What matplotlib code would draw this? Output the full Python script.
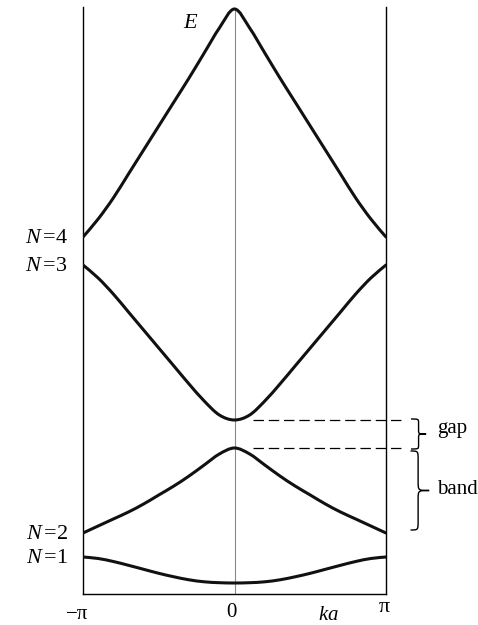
import numpy as np
import matplotlib
matplotlib.use("Agg")
import matplotlib.pyplot as plt
from matplotlib.path import Path
from matplotlib.patches import PathPatch

plt.rcParams["font.family"] = ["Liberation Serif", "DejaVu Serif"]
plt.rcParams["mathtext.fontset"] = "custom"
plt.rcParams["mathtext.rm"] = "Liberation Serif"
plt.rcParams["mathtext.it"] = "Liberation Serif:italic"
plt.rcParams["lines.scale_dashes"] = False

# Reduced wave number ka / pi on the half zone (bands are symmetric about 0)
ka_half = [0.0, 0.1, 0.2, 0.3, 0.4, 0.5, 0.6, 0.7, 0.8, 0.9, 1.0]

# Energy of each band (arbitrary units) on the half zone
band1 = [10, 10.3, 11.2, 13.2, 16.2, 19.7, 23.7, 27.7, 31.5, 34.5, 36]
band2 = [145, 139, 128, 117, 107, 98, 89, 81, 74, 67, 60]
band3 = [173, 178, 192, 209, 227, 245, 263, 281, 299, 315, 328]
band4 = [584, 565, 540, 515, 491, 467, 443, 419, 395, 374, 356]

band_labels = [r"$N\,$=1", r"$N\,$=2", r"$N\,$=3", r"$N\,$=4"]
tick_labels = ["\u2212\u03c0", "0", "\u03c0"]


def full_zone(values):
    k = np.asarray(ka_half)
    v = np.asarray(values, dtype=float)
    return np.concatenate([-k[:0:-1], k]), np.concatenate([v[:0:-1], v])


def smooth_path(x, y):
    pts = np.column_stack([x, y])
    n = len(pts)
    verts = [pts[0]]
    codes = [Path.MOVETO]
    for i in range(n - 1):
        p0 = pts[max(i - 1, 0)]
        p1 = pts[i]
        p2 = pts[i + 1]
        p3 = pts[min(i + 2, n - 1)]
        verts += [p1 + (p2 - p0) / 6.0, p2 - (p3 - p1) / 6.0, p2]
        codes += [Path.CURVE4] * 3
    return Path(verts, codes)


def brace(ax, y_top, y_bot, x_end, x_stem, x_tip, r):
    ym = 0.5 * (y_top + y_bot)
    verts = [
        (x_end, y_top), (x_stem, y_top), (x_stem, y_top), (x_stem, y_top - r),
        (x_stem, ym + r),
        (x_stem, ym), (x_stem, ym), (x_tip, ym),
        (x_stem, ym), (x_stem, ym), (x_stem, ym - r),
        (x_stem, y_bot + r),
        (x_stem, y_bot), (x_stem, y_bot), (x_end, y_bot),
    ]
    codes = [Path.MOVETO, Path.CURVE4, Path.CURVE4, Path.CURVE4,
             Path.LINETO,
             Path.CURVE4, Path.CURVE4, Path.CURVE4,
             Path.CURVE4, Path.CURVE4, Path.CURVE4,
             Path.LINETO,
             Path.CURVE4, Path.CURVE4, Path.CURVE4]
    ax.add_patch(PathPatch(Path(verts, codes), facecolor="none",
                           edgecolor="black", lw=1.0, clip_on=False))


W, H = 478, 625
fig = plt.figure(figsize=(W / 100, H / 100), dpi=100)
ax = fig.add_axes([83 / W, (H - 594) / H, (386 - 83) / W, (594 - 7) / H])
ax.set_xlim(-1, 1)
ax.set_ylim(-1, 586)
ax.set_xticks([])
ax.set_yticks([])
ax.patch.set_visible(False)
for side in ("left", "right", "bottom"):
    ax.spines[side].set_linewidth(1.0)
    ax.spines[side].set_color("black")
ax.spines["top"].set_visible(False)

bands = [band1, band2, band3, band4]

# Zone-centre guide line
ax.plot([0, 0], [-1, band4[0]], color="#8a8a8a", lw=0.8, zorder=1)

for b in bands:
    x, y = full_zone(b)
    ax.add_patch(PathPatch(smooth_path(x, y), facecolor="none",
                           edgecolor="#111111", lw=2.2, zorder=3,
                           capstyle="round"))

# Band edges at the zone boundary
for b, lab in zip(bands, band_labels):
    ax.annotate(lab, xy=(-1, b[-1]), xytext=(-11, -1),
                textcoords="offset points", ha="right", va="center",
                fontsize=16)

# Gap between the second and third bands
gap_top = band3[0]
gap_bot = band2[0]
for yv in (gap_top, gap_bot):
    ax.plot([0.125, 1.096], [yv, yv], color="black", lw=0.9,
            dashes=(7.5, 3.5), clip_on=False, zorder=2)

brace(ax, gap_top + 1, gap_bot - 1, 1.165, 1.215, 1.265, 4)
brace(ax, gap_bot - 3, band2[-1] + 3, 1.162, 1.212, 1.285, 9)
ax.text(1.34, 160, "gap", ha="left", va="baseline", fontsize=15,
        clip_on=False)
ax.text(1.34, 99, "band", ha="left", va="baseline", fontsize=15,
        clip_on=False)

# Axis annotations
ax.text(-0.29, 565, "$E$", ha="center", va="baseline", fontsize=16)
ax.annotate(tick_labels[0], xy=(-1, 0), xytext=(-4.5, -19),
            textcoords="offset points", ha="center", va="baseline", fontsize=15)
ax.annotate(tick_labels[1], xy=(0, 0), xytext=(-2, -17),
            textcoords="offset points", ha="center", va="baseline", fontsize=15)
ax.annotate(tick_labels[2], xy=(1, 0), xytext=(-1.5, -14),
            textcoords="offset points", ha="center", va="baseline", fontsize=16)
ax.annotate("$ka$", xy=(0.62, 0), xytext=(0, -19.5),
            textcoords="offset points", ha="center", va="baseline", fontsize=15)

fig.savefig("out.png", dpi=100)
